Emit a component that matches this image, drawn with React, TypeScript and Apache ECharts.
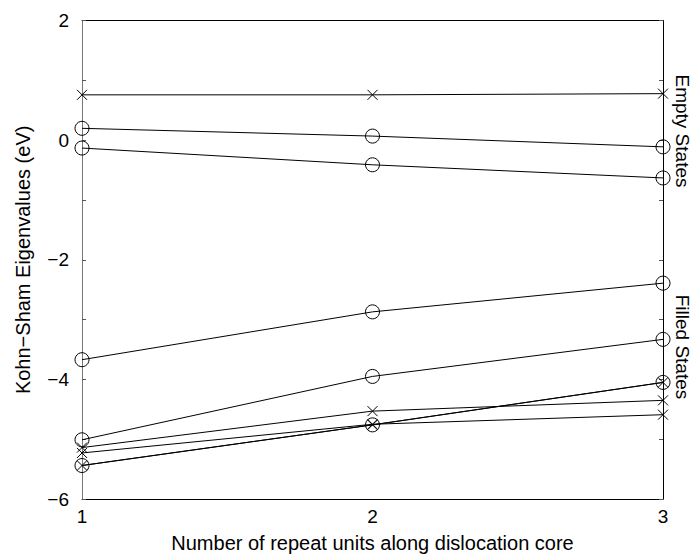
import React, { useEffect, useRef } from "react";
import * as echarts from "echarts";

const xTicks = [1, 2, 3];
const emptyCross = [0.76, 0.76, 0.78];
const emptyCircleA = [0.2, 0.07, -0.11];
const emptyCircleB = [-0.13, -0.41, -0.63];
const filledCircleC = [-3.67, -2.87, -2.39];
const filledCircleD = [-5.01, -3.95, -3.33];
const filledCross1 = [-5.14, -4.53, -4.35];
const filledCross2 = [-5.23, -4.75, -4.59];
const filledCrossCircle = [-5.44, -4.76, -4.05];
const yTickLabels = [2, 0, -2, -4, -6];
const xAxisTitle = "Number of repeat units along dislocation core";
const yAxisTitle = "Kohn\u2212Sham Eigenvalues (eV)";
const emptyLabel = "Empty States";
const filledLabel = "Filled States";

const FONT = "'Liberation Sans', Arial, Helvetica, sans-serif";
const CROSS = "path://M0,0L10,10M10,0L0,10";

function pairs(vals: number[]) {
  return vals.map((v, i) => [xTicks[i], v]);
}

function circleSeries(vals: number[]) {
  return {
    type: "line",
    data: pairs(vals),
    symbol: "circle",
    symbolSize: 14,
    lineStyle: { color: "#000", width: 1 },
    itemStyle: { color: "none", borderColor: "#000", borderWidth: 1 },
    silent: true,
  };
}

function crossSeries(vals: number[]) {
  return {
    type: "line",
    data: pairs(vals),
    symbol: CROSS,
    symbolSize: 10,
    lineStyle: { color: "#000", width: 1 },
    itemStyle: { color: "none", borderColor: "#000", borderWidth: 1 },
    silent: true,
  };
}

export default function App() {
  const ref = useRef<HTMLDivElement>(null);
  useEffect(() => {
    if (!ref.current) return;
    const chart = echarts.init(ref.current, null, { renderer: "svg" });
    const fmt = (v: number) =>
      yTickLabels.includes(v) ? (v < 0 ? "\u2212" + Math.abs(v) : String(v)) : "";
    chart.setOption({
      animation: false,
      backgroundColor: "#fff",
      textStyle: { fontFamily: FONT },
      grid: { left: 82, right: 29, top: 20.7, bottom: 55.3 },
      xAxis: [
        {
          type: "value",
          min: 1,
          max: 3,
          interval: 1,
          position: "bottom",
          name: xAxisTitle,
          nameLocation: "middle",
          nameGap: 34,
          nameTextStyle: { fontSize: 20, color: "#000", fontFamily: FONT },
          axisLine: { show: true, onZero: false, lineStyle: { color: "#000", width: 1 } },
          axisTick: { show: false },
          axisLabel: { fontSize: 19, color: "#000", margin: 8, fontFamily: FONT },
          splitLine: { show: false },
        },
        {
          type: "value",
          min: 1,
          max: 3,
          interval: 1,
          position: "top",
          axisLine: { show: true, onZero: false, lineStyle: { color: "#000", width: 1 } },
          axisTick: { show: false },
          axisLabel: { show: false },
          splitLine: { show: false },
        },
      ],
      yAxis: [
        {
          type: "value",
          min: -6,
          max: 2,
          interval: 1,
          position: "left",
          name: yAxisTitle,
          nameLocation: "middle",
          nameGap: 49,
          nameTextStyle: { fontSize: 20, color: "#000", fontFamily: FONT },
          axisLine: { show: true, onZero: false, lineStyle: { color: "#777", width: 1 } },
          axisTick: { show: true, inside: true, length: 4, lineStyle: { color: "#555" } },
          axisLabel: { fontSize: 19, color: "#000", margin: 13, formatter: fmt, fontFamily: FONT },
          splitLine: { show: false },
        },
        {
          type: "value",
          min: -6,
          max: 2,
          interval: 1,
          position: "right",
          axisLine: { show: true, onZero: false, lineStyle: { color: "#000", width: 1 } },
          axisTick: { show: true, inside: true, length: 4, lineStyle: { color: "#555" } },
          axisLabel: { show: false },
          splitLine: { show: false },
        },
      ],
      series: [
        crossSeries(emptyCross),
        circleSeries(emptyCircleA),
        circleSeries(emptyCircleB),
        circleSeries(filledCircleC),
        circleSeries(filledCircleD),
        crossSeries(filledCross1),
        crossSeries(filledCross2),
        circleSeries(filledCrossCircle),
        crossSeries(filledCrossCircle),
      ],
      graphic: [
        {
          type: "text",
          x: 682,
          y: 131,
          rotation: -Math.PI / 2,
          style: {
            text: emptyLabel,
            fontSize: 19,
            fontFamily: FONT,
            fill: "#000",
            align: "center",
            verticalAlign: "middle",
          },
        },
        {
          type: "text",
          x: 682,
          y: 347,
          rotation: -Math.PI / 2,
          style: {
            text: filledLabel,
            fontSize: 19,
            fontFamily: FONT,
            fill: "#000",
            align: "center",
            verticalAlign: "middle",
          },
        },
      ],
    });
    return () => chart.dispose();
  }, []);
  return (
    <div
      ref={ref}
      style={{ position: "absolute", left: 0, top: 0, width: 692, height: 558 }}
    />
  );
}
